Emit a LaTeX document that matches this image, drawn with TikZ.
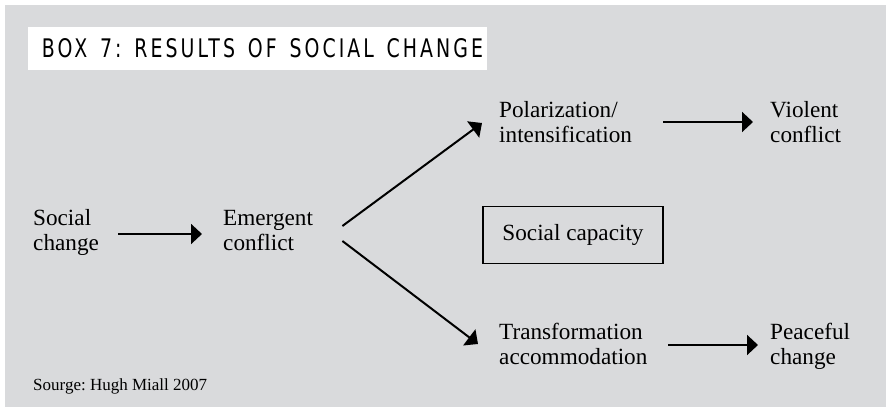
\documentclass[tikz,border=0pt]{standalone}
\usepackage{fontspec}
\setmainfont{Liberation Serif}
\newfontfamily\titlefont[LetterSpace=16]{DejaVu Sans}
\usetikzlibrary{arrows.meta}
\definecolor{bggray}{RGB}{217,218,220}
\frenchspacing
\newcommand{\tsp}{\hspace{0.2em}}
\tikzset{
  lbl/.style={anchor=base west, inner sep=0pt, align=left,
    font=\fontsize{23.2}{25}\selectfont, text height=16pt, text depth=26pt},
  arr/.style={line width=2pt, -{Triangle[length=11pt,width=20pt]}},
  capbox/.style={draw, line width=1.8pt, inner sep=0pt, minimum width=180pt,
    minimum height=57pt, font=\fontsize{23.2}{25}\selectfont},
  srcnote/.style={anchor=base west, inner sep=0pt, font=\fontsize{17}{20}\selectfont},
  titlebox/.style={fill=white, inner sep=0pt, minimum width=459pt, minimum height=43pt},
}
\begin{document}
\begin{tikzpicture}[x=1pt,y=-1pt]
\useasboundingbox (0,0) rectangle (886,407);
\fill[bggray] (5,5) rectangle (886,407);
\node[titlebox] (tbox) at (257.5,48.5) {};
\node[inner sep=0pt] (title) at (262.5,48.5)
  {\resizebox{441pt}{19pt}{\titlefont BOX \tsp7: \tsp RESULTS \tsp OF \tsp SOCIAL \tsp CHANGE}};
\node[lbl, text width=66pt]  (sc)  at (33,225)  {Social\\change};
\node[lbl, text width=90pt]  (ec)  at (223,225) {Emergent\\conflict};
\node[lbl, text width=133pt] (pol) at (499,117) {Polarization/\\intensification};
\node[lbl, text width=68pt]  (vio) at (770,117) {Violent\\conflict};
\node[lbl, text width=148pt] (tra) at (499,339) {Transformation\\accommodation};
\node[lbl, text width=78pt]  (pea) at (770,339) {Peaceful\\change};
\node[capbox] (cap) at (573,235) {Social capacity};
\node[srcnote] (src) at (33,390) {Sourge: Hugh Miall 2007};
\draw[arr, shorten <=19pt, shorten >=21pt] ([yshift=-4pt]sc.east) -- ([yshift=-4pt]ec.west);
\draw[arr, shorten <=31pt, shorten >=17pt] (pol.east) -- (vio.west);
\draw[arr, shorten <=21pt, shorten >=12pt] ([yshift=-1pt]tra.east) -- ([yshift=-1pt]pea.west);
\draw[arr] ([shift={(29pt,4pt)}]ec.east) -- ([shift={(-17pt,-1pt)}]pol.west);
\draw[arr] ([shift={(29pt,-11pt)}]ec.east) -- ([shift={(-21pt,0pt)}]tra.west);
\end{tikzpicture}
\end{document}
